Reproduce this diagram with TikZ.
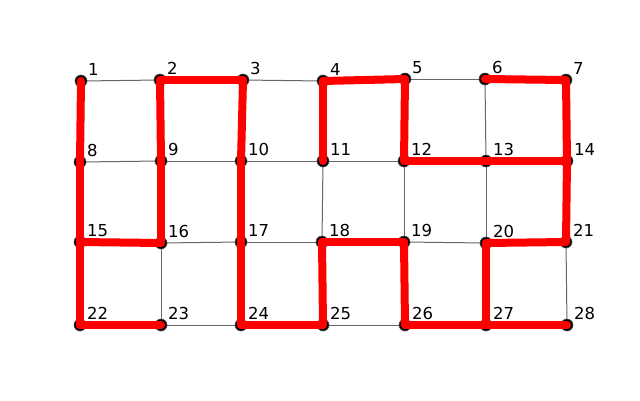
\documentclass[tikz,border=0pt]{standalone}
\usepackage{fontspec}
\setmainfont{DejaVu Sans}
\usetikzlibrary{calc}
\begin{document}
\begin{tikzpicture}[x=1pt,y=-1pt,
  vtx/.style={circle,fill=black,draw=black!70,line width=0.6pt,minimum size=12pt,inner sep=0pt},
  lbl/.style={anchor=base west,inner sep=0pt,font=\fontsize{16.5}{19}\selectfont},
  gedge/.style={draw=black!60,line width=1pt},
  redge/.style={draw=red,line width=8pt,line cap=round,line join=round}]
\useasboundingbox (0,0) rectangle (640,400);
\foreach \n/\x/\y in {1/81/81,2/160/80,3/243/80,4/323/81,5/405/79,6/485/79,7/566/80,
  8/80/162,9/161/161,10/241/161,11/323/161,12/404/161,13/486/161,14/567/161,
  15/80/242,16/161/243,17/241/242,18/322/242,19/404/242,20/486/243,21/566/242,
  22/80/325,23/161/325,24/241/325,25/323/325,26/405/325,27/486/325,28/567/325}
  {\coordinate (p\n) at (\x,\y);}
% grid edges
\foreach \a/\b in {1/2,2/3,3/4,4/5,5/6,6/7,8/9,9/10,10/11,11/12,12/13,13/14,
  15/16,16/17,17/18,18/19,19/20,20/21,22/23,23/24,24/25,25/26,26/27,27/28,
  1/8,8/15,15/22,2/9,9/16,16/23,3/10,10/17,17/24,4/11,11/18,18/25,
  5/12,12/19,19/26,6/13,13/20,20/27,7/14,14/21,21/28}
  {\draw[gedge] (p\a) -- (p\b);}
% nodes
\foreach \n in {1,...,28}{\node[vtx] (v\n) at (p\n) {};}
% spanning tree
\foreach \a/\b in {1/8,8/15,15/22,22/23,15/16,16/9,9/2,2/3,3/10,10/17,17/24,24/25,
  25/18,18/19,19/26,26/27,27/28,27/20,20/21,21/14,14/7,7/6,13/14,12/13,12/5,5/4,4/11}
  {\draw[redge] (v\a.center) -- (v\b.center);}
% labels
\foreach \n in {1,...,28}{\node[lbl] (t\n) at ($(p\n)+(7,-6)$) {\n};}
\end{tikzpicture}
\end{document}
